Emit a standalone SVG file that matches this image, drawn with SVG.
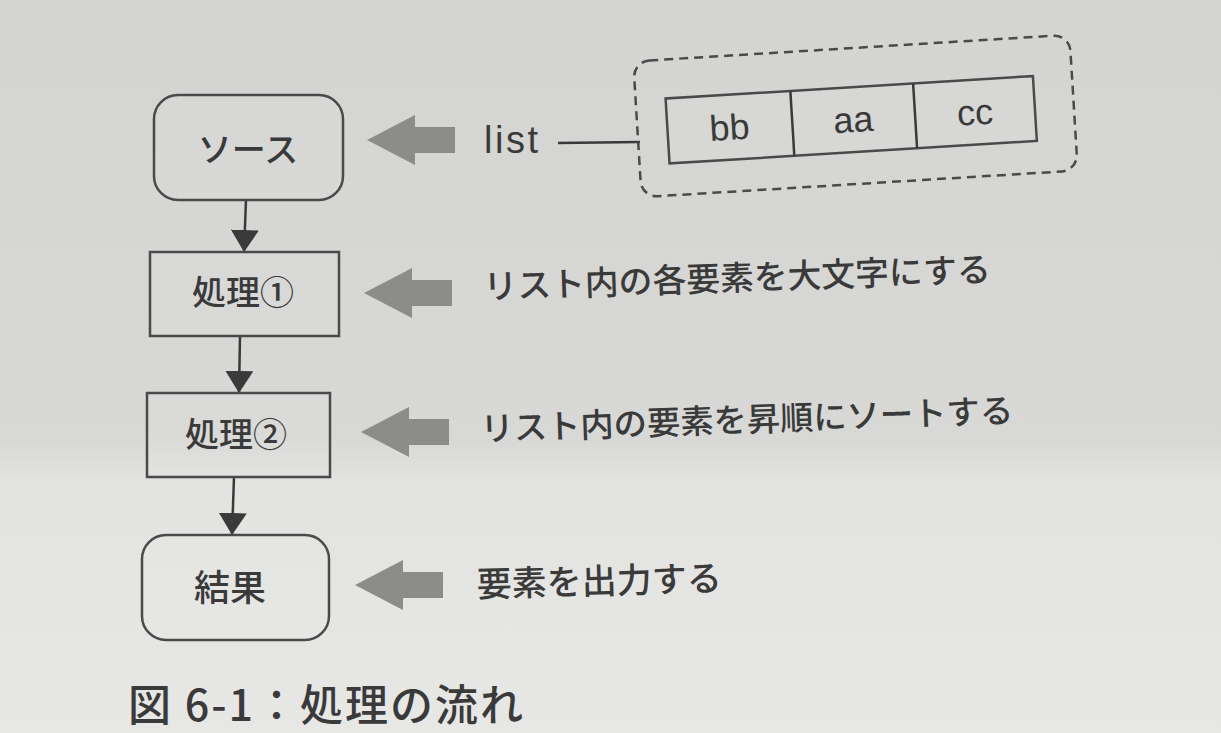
<svg xmlns="http://www.w3.org/2000/svg" width="1221" height="733" viewBox="0 0 1221 733">
<defs>
<linearGradient id="bg" x1="0" y1="0" x2="0" y2="1">
<stop offset="0" stop-color="#d4d4d2"/>
<stop offset="0.6" stop-color="#d8d8d6"/>
<stop offset="0.66" stop-color="#e3e3e1"/>
<stop offset="1" stop-color="#e7e7e5"/>
</linearGradient>
<marker id="ah" viewBox="0 0 22 28" markerWidth="22" markerHeight="28" refX="22" refY="14" orient="auto" markerUnits="userSpaceOnUse">
<path d="M0,0 L22,14 L0,28 Z" fill="#3a3a3a"/>
</marker>
<path id="garrow" d="M0,0 L48,-25 L48,-13 L88,-13 L88,13 L48,13 L48,25 Z" fill="#8c8c8a"/>
</defs>
<style>
.box{fill:#ffffff;fill-opacity:0.06;stroke:#4a4a4a;stroke-width:2.5}
.ln{stroke:#3a3a3a;stroke-width:2.5;fill:none}
.jp{font-family:"Noto Sans CJK JP","Noto Sans",sans-serif;fill:#3a3a3a;font-weight:500}
.en{font-family:"Liberation Sans","DejaVu Sans",sans-serif;fill:#3a3a3a}
</style>
<rect width="1221" height="733" fill="url(#bg)"/>

<g id="connectors">
<line class="ln" x1="246" y1="200" x2="244" y2="252" marker-end="url(#ah)"/>
<line class="ln" x1="240" y1="336" x2="239" y2="393" marker-end="url(#ah)"/>
<line class="ln" x1="234" y1="477" x2="232" y2="535" marker-end="url(#ah)"/>
<use href="#garrow" x="367" y="140"/>
<use href="#garrow" x="364" y="293"/>
<use href="#garrow" x="361" y="432"/>
<use href="#garrow" x="355" y="585"/>
<line class="ln" x1="558" y1="143" x2="640" y2="142" stroke-width="2"/>
</g>

<g id="source">
<rect class="box" x="154" y="95" width="189" height="105" rx="24"/>
<text class="jp" x="248" y="162" font-size="34" text-anchor="middle">ソース</text>
</g>

<g id="proc1">
<rect class="box" x="150" y="252" width="189" height="84"/>
<text class="jp" x="243" y="305" font-size="34" text-anchor="middle">処理①</text>
</g>

<g id="proc2">
<rect class="box" x="147" y="393" width="183" height="84"/>
<text class="jp" x="236" y="447" font-size="34" text-anchor="middle">処理②</text>
</g>

<g id="result">
<rect class="box" x="142" y="535" width="187" height="105" rx="24"/>
<text class="jp" x="230" y="601" font-size="36" text-anchor="middle">結果</text>
</g>

<g id="list-label">
<text class="en" x="484" y="153" font-size="38" letter-spacing="2.5">list</text>
</g>

<g id="list-container" transform="rotate(-3.5 855 116)">
<rect x="637" y="48" width="437" height="136" rx="16" fill="none" stroke="#4a4a4a" stroke-width="2.5" stroke-dasharray="9 6"/>
<rect class="box" x="667" y="87" width="368" height="65" stroke-width="2.2"/>
<line class="ln" x1="792" y1="87" x2="792" y2="152" stroke-width="2.2"/>
<line class="ln" x1="915" y1="87" x2="915" y2="152" stroke-width="2.2"/>
<text class="en" x="729" y="132" font-size="36" text-anchor="middle">bb</text>
<text class="en" x="853" y="132" font-size="36" text-anchor="middle">aa</text>
<text class="en" x="975" y="132" font-size="36" text-anchor="middle">cc</text>
</g>

<g id="desc1">
<text class="jp" x="484" y="299" font-size="33.8" transform="rotate(-2 484 299)">リスト内の各要素を大文字にする</text>
</g>
<g id="desc2">
<text class="jp" x="481" y="441" font-size="33.3" transform="rotate(-2 481 441)">リスト内の要素を昇順にソートする</text>
</g>
<g id="desc3">
<text class="jp" x="477" y="597" font-size="35" transform="rotate(-1.5 477 597)">要素を出力する</text>
</g>

<g id="caption">
<text class="jp" x="128" y="721" font-size="43" letter-spacing="2">図 6-1：処理の流れ</text>
</g>
</svg>
